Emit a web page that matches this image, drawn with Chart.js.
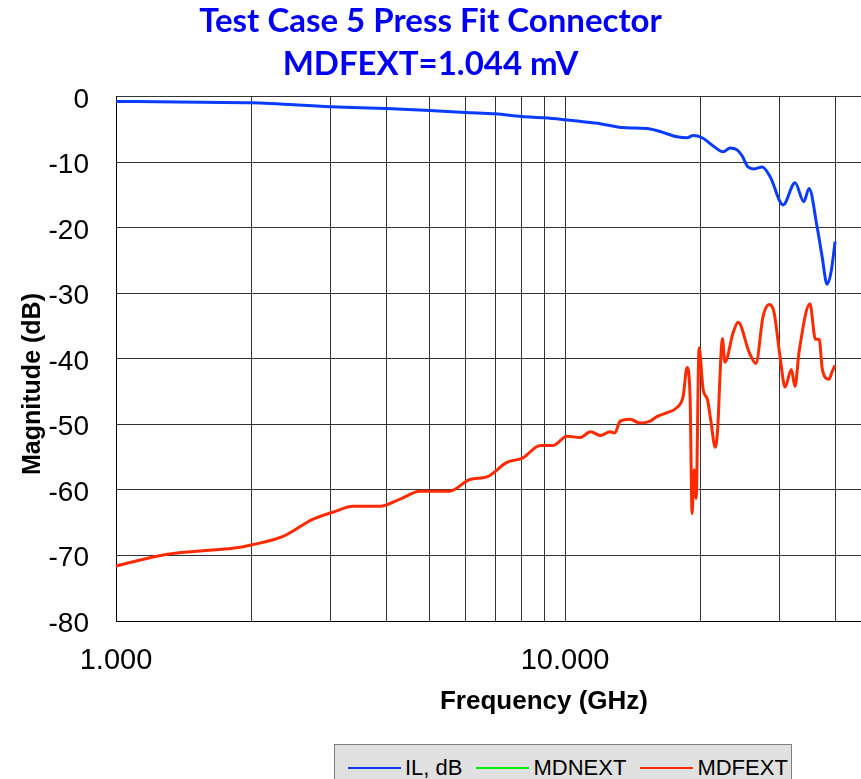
<!DOCTYPE html>
<html>
<head>
<meta charset="utf-8">
<script src="https://cdn.jsdelivr.net/npm/chart.js@4"></script>
<style>
  body { margin: 0; overflow: hidden; background: #fff; }
  #wrap { position: relative; width: 861px; height: 779px; }
  #legend {
    position: absolute; left: 334px; top: 744px; width: 458px; height: 48px;
    box-sizing: border-box; background: #e0e0e0; border: 1px solid #7f7f7f;
    display: flex; align-items: center; padding: 0 0 0 13px;
    font-family: "Liberation Sans", Arial, sans-serif; font-size: 22px; color: #000;
  }
  #legend .item { display: flex; align-items: center; margin-right: 14px; white-space: nowrap; flex-shrink: 0; }
  #legend .swatch { width: 53px; height: 2.5px; margin-right: 4px; }
</style>
</head>
<body>
<div id="wrap">
  <canvas id="canvas" width="861" height="779"></canvas>
  <div id="legend"></div>
</div>
<script>
// IL, dB (blue)
const ilFreq = [1.0, 1.37, 2.0, 3.0, 4.0, 5.0, 6.0, 7.0, 8.0, 9.0, 10.0, 10.96, 11.97, 13.47, 15.46, 16.28, 17.76, 18.70, 19.28, 20.19,
  21.37, 22.49, 23.31, 24.16, 24.78, 25.55, 26.36, 27.47, 28.62, 30.59, 32.52, 34.0, 34.94, 36.4, 37.36, 38.32, 39.12, 39.93];
const ilDb = [-0.7, -0.8, -0.9, -1.5, -1.8, -2.1, -2.4, -2.6, -3.0, -3.2, -3.5, -3.8, -4.1, -4.7, -4.9, -5.3, -6.1, -6.25, -5.9, -6.25,
  -7.5, -8.4, -7.8, -8.1, -9.0, -10.7, -11.0, -10.7, -12.2, -16.5, -13.1, -16.0, -14.0, -19.8, -24.4, -28.6, -26.7, -22.1];

// MDNEXT (green) - nothing visible in the plot
const mdnextFreq = [];
const mdnextDb = [];

// MDFEXT (red)
const mdfextFreq = [1.0, 1.30, 1.54, 1.82, 2.0, 2.355, 2.74, 3.04, 3.37, 3.87, 4.29, 4.75, 5.53, 6.14, 6.70, 7.42, 8.06, 8.80, 9.41, 10.1,
  10.8, 11.4, 12.0, 12.6, 12.9, 13.27, 13.95, 14.68, 15.46, 16.0, 16.88, 17.76, 18.32, 18.69, 18.98, 19.18, 19.38, 19.58, 19.88, 20.3,
  20.75, 21.1, 21.6, 21.9, 22.1, 22.4, 22.7, 23.67, 24.29, 25.7, 26.6, 27.6, 28.5, 29.2, 30.1, 30.9, 31.9, 32.5, 33.2, 35.1,
  36.1, 36.8, 37.4, 38.7, 39.3, 39.9];
const mdfextDb = [-71.6, -69.8, -69.3, -68.9, -68.4, -67.1, -64.5, -63.4, -62.5, -62.5, -61.4, -60.2, -60.2, -58.4, -58.0, -55.8, -55.1, -53.2, -53.2, -51.8,
  -52.0, -51.1, -51.7, -51.1, -51.3, -49.5, -49.2, -49.8, -49.5, -48.8, -48.2, -47.4, -45.7, -41.3, -45.7, -63.6, -56.9, -61.3, -38.3, -44.7,
  -46.2, -49.3, -53.5, -50.0, -43.5, -36.9, -40.5, -36.0, -34.4, -39.0, -40.7, -33.5, -31.7, -32.9, -39.6, -44.3, -41.6, -44.2, -38.9, -31.6,
  -37.0, -37.0, -41.6, -43.1, -42.0, -41.0];

const xGridValues = [1, 2, 3, 4, 5, 6, 7, 8, 9, 10, 20, 30, 40];
const xLabelValues = [1, 10];
const xLabelText = ["1.000", "10.000"];

const toPoints = (xs, ys) => xs.map((x, i) => ({ x: x, y: ys[i] }));

// axis titles are placed by hand: the original has them off-centre
const axisTitlePlugin = {
  id: "axisTitles",
  afterDraw(chart) {
    const ctx = chart.ctx;
    ctx.save();
    ctx.fillStyle = "#000";
    ctx.textAlign = "center";
    ctx.textBaseline = "middle";
    ctx.font = "bold 26px 'Liberation Sans', Arial, sans-serif";
    ctx.fillText("Frequency (GHz)", 544, 702);
    ctx.translate(33, 384);
    ctx.rotate(-Math.PI / 2);
    ctx.font = "bold 25px 'Liberation Sans', Arial, sans-serif";
    ctx.fillText("Magnitude (dB)", 0, 0);
    ctx.restore();
  },
};

const lineDefaults = { pointRadius: 0, borderWidth: 3, fill: false, cubicInterpolationMode: "monotone" };

const chart = new Chart(document.getElementById("canvas"), {
  type: "line",
  data: {
    datasets: [
      { label: "IL, dB", data: toPoints(ilFreq, ilDb), borderColor: "#0a3cff", ...lineDefaults },
      { label: "MDNEXT", data: toPoints(mdnextFreq, mdnextDb), borderColor: "#00ee00", ...lineDefaults },
      { label: "MDFEXT", data: toPoints(mdfextFreq, mdfextDb), borderColor: "#ff2a00", ...lineDefaults },
    ],
  },
  options: {
    responsive: false,
    animation: false,
    layout: { padding: 0 },
    plugins: {
      legend: { display: false },
      tooltip: { enabled: false },
      title: {
        display: true,
        text: ["Test Case 5 Press Fit Connector", "MDFEXT=1.044 mV"],
        color: "#0000f5",
        font: { family: "Lato", weight: "bold", size: 33, lineHeight: 1.3 },
        padding: { top: 0, bottom: 11 },
      },
    },
    scales: {
      x: {
        type: "logarithmic",
        min: 1,
        max: 45.6,
        afterBuildTicks: (scale) => {
          scale.ticks = xGridValues.map((v) => ({ value: v }));
        },
        afterFit: (scale) => {
          scale.height = 158;
        },
        ticks: {
          autoSkip: false,
          maxRotation: 0,
          padding: 23,
          color: "#000",
          font: { family: "Liberation Sans", size: 29 },
          callback: (value) => {
            const i = xLabelValues.indexOf(value);
            return i >= 0 ? xLabelText[i] : "";
          },
        },
        grid: { color: "rgba(0,0,0,0.8)", lineWidth: 1, drawTicks: false },
        border: { color: "#000" },
      },
      y: {
        min: -80,
        max: 0,
        afterFit: (scale) => {
          scale.width = 116;
        },
        ticks: {
          stepSize: 10,
          padding: 27,
          labelOffset: 3,
          color: "#000",
          font: { family: "Liberation Sans", size: 28 },
        },
        grid: { color: "rgba(0,0,0,0.8)", lineWidth: 1, drawTicks: false },
        border: { color: "#000" },
      },
    },
  },
  plugins: [axisTitlePlugin],
});

// legend drawn as html so it can sit off-centre like the original
const legendBox = document.getElementById("legend");
chart.data.datasets.forEach((ds) => {
  const item = document.createElement("div");
  item.className = "item";
  const swatch = document.createElement("span");
  swatch.className = "swatch";
  swatch.style.background = ds.borderColor;
  const text = document.createElement("span");
  text.textContent = ds.label;
  item.appendChild(swatch);
  item.appendChild(text);
  legendBox.appendChild(item);
});
</script>
</body>
</html>
